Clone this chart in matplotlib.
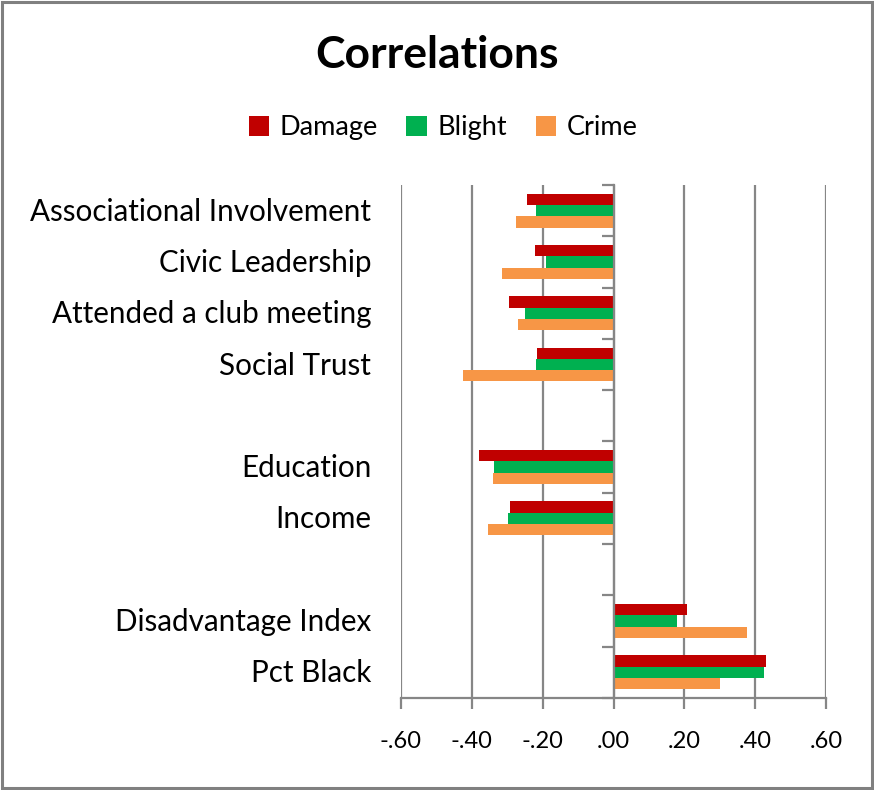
import matplotlib.pyplot as plt
import matplotlib.transforms as mtransforms
from matplotlib.patches import Rectangle
from matplotlib.ticker import FuncFormatter, MultipleLocator

plt.rcParams['font.family'] = ['Lato', 'DejaVu Sans']

# empty strings are the gaps between blocks of categories
categories = ["Associational Involvement", "Civic Leadership", "Attended a club meeting",
              "Social Trust", "", "Education", "Income", "", "Disadvantage Index", "Pct Black"]
damage = [-0.244, -0.222, -0.294, -0.217, None, -0.381, -0.293, None, 0.207, 0.430]
blight = [-0.220, -0.190, -0.251, -0.220, None, -0.336, -0.299, None, 0.179, 0.426]
crime = [-0.276, -0.314, -0.271, -0.426, None, -0.340, -0.354, None, 0.378, 0.301]

series = [("Damage", damage, "#C00000"),
          ("Blight", blight, "#00B050"),
          ("Crime", crime, "#F79646")]

grid_col = "#868686"

fig = plt.figure(figsize=(8.74, 7.90), dpi=100)
ax = fig.add_axes([0.4588, 0.1165, 0.4863, 0.6494])

bar_h = 0.22
for k, (name, vals, col) in enumerate(series):
    ys = [i + (k - 1) * bar_h for i, v in enumerate(vals) if v is not None]
    ws = [v for v in vals if v is not None]
    ax.barh(ys, ws, height=bar_h, color=col, label=name, zorder=3)

ax.set_xlim(-0.6, 0.6)
ax.set_ylim(len(categories) - 0.5, -0.5)

ax.xaxis.set_major_locator(MultipleLocator(0.2))
ax.xaxis.set_major_formatter(FuncFormatter(
    lambda v, p: ("-" if v < -1e-9 else "") + ("%.2f" % abs(v)).lstrip("0")))
ax.grid(axis='x', color=grid_col, linewidth=1.6, zorder=0)
ax.tick_params(axis='x', direction='out', length=8, width=1.6, color=grid_col,
               labelsize=17, pad=16, labelcolor='black')

# category axis sits on zero
ax.spines['left'].set_position(('data', 0))
ax.spines['left'].set_color(grid_col)
ax.spines['left'].set_linewidth(1.6)
ax.spines['left'].set_zorder(4)
ax.spines['bottom'].set_color(grid_col)
ax.spines['bottom'].set_linewidth(1.6)
ax.spines['top'].set_visible(False)
ax.spines['right'].set_visible(False)
ax.set_yticks([i - 0.5 for i in range(len(categories) + 1)])
ax.set_yticklabels([])
ax.tick_params(axis='y', direction='out', length=9, width=1.6, color=grid_col)

trans = mtransforms.blended_transform_factory(ax.transAxes, ax.transData)
for i, c in enumerate(categories):
    ax.text(-0.07, i + 0.02, c, transform=trans, ha='right', va='center', fontsize=21.3)

fig.text(0.5, 0.93, "Correlations", ha='center', va='center',
         fontsize=32, fontweight='bold')
fig.legend(loc='center', bbox_to_anchor=(0.507, 0.838), ncol=3, frameon=False,
           fontsize=19.5, handlelength=0.75, handleheight=0.75, handletextpad=0.4,
           columnspacing=1.05)

fig.patches.append(Rectangle((0.002, 0.002), 0.996, 0.996, transform=fig.transFigure,
                             fill=False, edgecolor="#808080", linewidth=2.2))

fig.savefig("out.png", dpi=100)
